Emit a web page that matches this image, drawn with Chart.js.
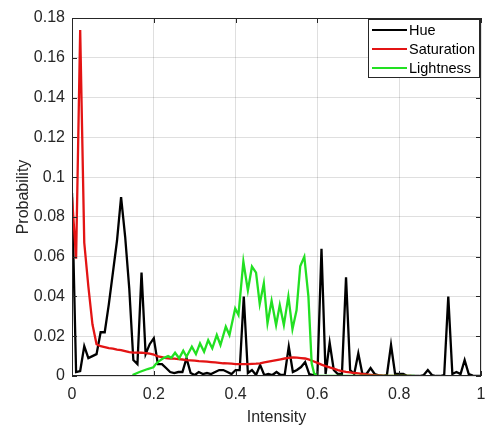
<!DOCTYPE html>
<html>
<head>
<meta charset="utf-8">
<script src="https://cdn.jsdelivr.net/npm/chart.js@4"></script>
<style>
  html, body { margin: 0; padding: 0; background: #fff; }
  canvas { display: block; }
</style>
</head>
<body>
<canvas id="histChart" width="488" height="426"></canvas>
<script>
// Histogram bins (intensity 0..1 in steps of 0.01)
const bins = Array.from({length: 101}, (_, i) => i / 100);

// Hue probability per bin
const hue = [
  0.092, 0.002, 0.0025, 0.015, 0.009, 0.010, 0.011, 0.022, 0.022, 0.036,
  0.052, 0.068, 0.090, 0.070, 0.044, 0.008, 0.006, 0.052, 0.011, 0.016,
  0.019, 0.006, 0.006, 0.004, 0.002, 0.0015, 0.002, 0.002, 0.009, 0.0015,
  0.0005, 0.002, 0.001, 0.0015, 0.001, 0.002, 0.003, 0.003, 0.002, 0.001,
  0.003, 0.003, 0.040, 0.0015, 0.003, 0.0005, 0.0055, 0.0005, 0.001, 0.0005,
  0.002, 0.0005, 0.0005, 0.0148, 0.002, 0.003, 0.0045, 0.007, 0.001, 0.0005,
  0.0005, 0.064, 0.001, 0.0167, 0.003, 0.001, 0.001, 0.0496, 0.003, 0.001,
  0.0114, 0.001, 0.001, 0.004, 0.001, 0.0003, 0, 0.0005, 0.0156, 0.001,
  0.001, 0.001, 0, 0, 0, 0, 0.0005, 0.003, 0.0005, 0,
  0, 0.0005, 0.040, 0.001, 0.002, 0.001, 0.008, 0.001, 0.0002, 0,
  0
];

// Saturation probability per bin (0 .. 0.83)
const saturation = [
  0.090, 0.059, 0.174, 0.067, 0.045, 0.026, 0.016, 0.015, 0.0145, 0.014,
  0.0138, 0.0133, 0.013, 0.0125, 0.012, 0.0118, 0.0118, 0.0117, 0.0115, 0.0112,
  0.0108, 0.0098, 0.0095, 0.009, 0.0088, 0.0087, 0.0085, 0.0083, 0.008, 0.0079,
  0.0077, 0.0075, 0.0074, 0.0072, 0.007, 0.0068, 0.0066, 0.0064, 0.0063, 0.0062,
  0.006, 0.006, 0.006, 0.006, 0.0061, 0.0062, 0.0064, 0.0068, 0.0072, 0.0076,
  0.008, 0.0084, 0.0088, 0.0091, 0.0093, 0.0092, 0.009, 0.0088, 0.0082, 0.0074,
  0.0066, 0.0057, 0.005, 0.0043, 0.0037, 0.003, 0.0025, 0.0021, 0.0018, 0.0015,
  0.0013, 0.001, 0.0008, 0.0006, 0.0004, 0.0003, 0.0002, 0.0001, 0.0001, 0.0001,
  0.0001, 0.0001, 0.0001, 0.0001
];

// Lightness: own x positions
const lightX = [
  0.148, 0.165, 0.185, 0.199, 0.205, 0.213, 0.223, 0.235, 0.243, 0.252,
  0.262, 0.272, 0.280, 0.293, 0.303, 0.313, 0.323, 0.333, 0.343, 0.354,
  0.363, 0.376, 0.385, 0.399, 0.407, 0.419, 0.430, 0.440, 0.450, 0.459,
  0.469, 0.478, 0.488, 0.499, 0.508, 0.518, 0.529, 0.539, 0.549, 0.558,
  0.568, 0.578, 0.586, 0.592, 0.600, 0.838
];
const lightY = [
  0.0005, 0.002, 0.0035, 0.0044, 0.006, 0.0075, 0.0089, 0.010, 0.0092, 0.0117,
  0.0089, 0.0127, 0.0097, 0.0147, 0.011, 0.0164, 0.0122, 0.018, 0.0139, 0.0206,
  0.0156, 0.0248, 0.0206, 0.034, 0.0307, 0.0575, 0.043, 0.055, 0.0520, 0.0362,
  0.0466, 0.0265, 0.0378, 0.0256, 0.0357, 0.0256, 0.040, 0.0235, 0.033, 0.0552,
  0.060, 0.040, 0.0064, 0.0013, 0, 0
];

const xTicks = [0, 0.2, 0.4, 0.6, 0.8, 1];
const yTicks = [0, 0.02, 0.04, 0.06, 0.08, 0.1, 0.12, 0.14, 0.16, 0.18];

const axisColor = '#262626';
const fontFamily = "'Liberation Sans', Arial, sans-serif";

Chart.defaults.font.family = fontFamily;
Chart.defaults.color = axisColor;

// MATLAB style box, inward ticks and legend in the top right corner
const matlabBox = {
  id: 'matlabBox',
  afterDatasetsDraw(chart) {
    const {ctx, chartArea: a, scales: {x, y}} = chart;
    ctx.save();
    ctx.strokeStyle = axisColor;
    ctx.lineWidth = 1;
    ctx.strokeRect(a.left + 0.5, a.top + 0.5, a.right - a.left - 1, a.bottom - a.top - 1);

    ctx.beginPath();
    xTicks.forEach(v => {
      const px = Math.round(x.getPixelForValue(v)) + 0.5;
      ctx.moveTo(px, a.bottom); ctx.lineTo(px, a.bottom - 5);
      ctx.moveTo(px, a.top); ctx.lineTo(px, a.top + 5);
    });
    yTicks.forEach(v => {
      const py = Math.round(y.getPixelForValue(v)) + 0.5;
      ctx.moveTo(a.left, py); ctx.lineTo(a.left + 5, py);
      ctx.moveTo(a.right, py); ctx.lineTo(a.right - 5, py);
    });
    ctx.stroke();

    // legend
    const w = 111, h = 58;
    const lx = a.right - w - 2, ly = a.top + 1;
    ctx.fillStyle = '#fff';
    ctx.fillRect(lx, ly, w, h);
    ctx.strokeRect(lx + 0.5, ly + 0.5, w, h);
    ctx.font = '14.5px ' + fontFamily;
    ctx.textBaseline = 'middle';
    ctx.textAlign = 'left';
    chart.data.datasets.forEach((ds, i) => {
      const ry = ly + 11 + i * 19;
      ctx.strokeStyle = ds.borderColor;
      ctx.lineWidth = 2;
      ctx.beginPath();
      ctx.moveTo(lx + 4, ry); ctx.lineTo(lx + 39, ry);
      ctx.stroke();
      ctx.fillStyle = '#000';
      ctx.fillText(ds.label, lx + 41, ry + 1);
    });
    ctx.restore();
  }
};

const ctx = document.getElementById('histChart').getContext('2d');
new Chart(ctx, {
    type: 'line',
    data: {
        datasets: [{
            label: 'Hue',
            data: bins.map((b, i) => ({x: b, y: hue[i]})),
            borderColor: '#000000',
            borderWidth: 2.3,
            pointRadius: 0,
            order: 3
        }, {
            label: 'Saturation',
            data: saturation.map((v, i) => ({x: bins[i], y: v})),
            borderColor: '#e31414',
            borderWidth: 2.3,
            pointRadius: 0,
            order: 2
        }, {
            label: 'Lightness',
            data: lightX.map((lx, i) => ({x: lx, y: lightY[i]})),
            borderColor: '#22e022',
            borderWidth: 2.3,
            pointRadius: 0,
            order: 1
        }]
    },
    options: {
        responsive: false,
        animation: false,
        layout: {padding: {top: 18, right: 7, left: 0, bottom: 0}},
        plugins: {
            legend: {display: false},
            tooltip: {enabled: false}
        },
        scales: {
            x: {
                type: 'linear',
                min: 0,
                max: 1,
                afterFit: scale => {
                    scale.height = 50;
                    scale.paddingLeft = 0;
                    scale.paddingRight = 0;
                },
                afterBuildTicks: scale => { scale.ticks = xTicks.map(v => ({value: v})); },
                ticks: {
                    font: {size: 16},
                    padding: 9,
                    callback: v => String(Math.round(v * 10) / 10)
                },
                grid: {color: 'rgba(38,38,38,0.15)', drawTicks: false},
                border: {display: false},
                title: {display: true, text: 'Intensity', font: {size: 16, lineHeight: 1}, padding: {bottom: 0}}
            },
            y: {
                type: 'linear',
                min: 0,
                max: 0.18,
                afterFit: scale => {
                    scale.width = 72;
                    scale.paddingTop = 0;
                    scale.paddingBottom = 0;
                },
                afterBuildTicks: scale => { scale.ticks = yTicks.map(v => ({value: v})); },
                ticks: {
                    font: {size: 16},
                    padding: 7,
                    callback: v => String(Math.round(v * 100) / 100)
                },
                grid: {color: 'rgba(38,38,38,0.15)', drawTicks: false},
                border: {display: false},
                title: {display: true, text: 'Probability', font: {size: 16}, padding: {top: 14}}
            }
        }
    },
    plugins: [matlabBox]
});
</script>
</body>
</html>
